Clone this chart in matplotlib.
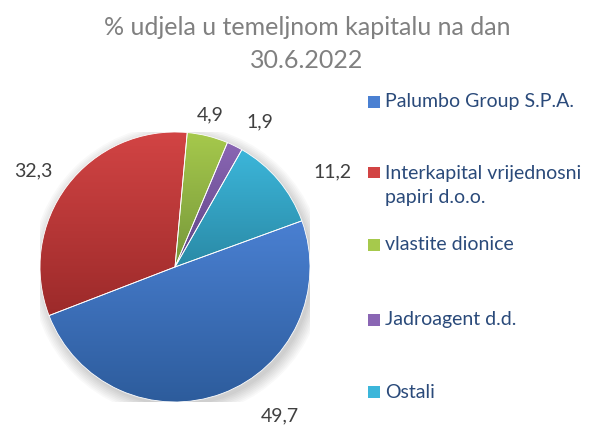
import numpy as np
import matplotlib
matplotlib.use('Agg')
from matplotlib import pyplot as plt
from matplotlib.colors import LinearSegmentedColormap
from matplotlib.patches import Rectangle, Circle

# udjeli u temeljnom kapitalu, 30.6.2022
categories = ['Palumbo Group S.P.A.', 'Interkapital vrijednosni\npapiri d.o.o.',
              'vlastite dionice', 'Jadroagent d.d.', 'Ostali']
shares = [49.7, 32.3, 4.9, 1.9, 11.2]
value_labels = ['49,7', '32,3', '4,9', '1,9', '11,2']

# (light, dark) for the Excel style gradient
grads = [('#4a80d2', '#2d5c9c'),
         ('#d24444', '#9c2a2a'),
         ('#a6c94c', '#76973a'),
         ('#8a66b4', '#5e4484'),
         ('#3cb6da', '#2a8aa6')]

plt.rcParams['font.family'] = ['Lato', 'DejaVu Sans']

W, H = 602, 425
fig = plt.figure(figsize=(W / 100, H / 100), dpi=100)
fig.patch.set_facecolor('white')

cx, cy, r = 175, 267, 135
ax = fig.add_axes([(cx - r) / W, (H - cy - r) / H, 2 * r / W, 2 * r / H])
ax.set_xlim(-1, 1)
ax.set_ylim(-1, 1)
ax.set_aspect('equal')
ax.axis('off')

# soft shadow
for k in range(8):
    ax.add_patch(Circle((0.02, -0.03), 1.0 + 0.012 * k, color='#000000',
                        alpha=0.025, lw=0, zorder=0))

wedges, texts = ax.pie(shares, labels=value_labels, startangle=20, counterclock=False,
                       radius=1, labeldistance=1.25,
                       wedgeprops=dict(edgecolor='white', linewidth=0.6),
                       textprops=dict(fontsize=14, color='#404040', ha='center', va='center'))

# label placement like Excel best fit: (angle shift in deg, radial distance)
place = [(14.7, 1.35), (3.0, 1.27), (1.0, 1.155), (-4.1, 1.245), (-9.0, 1.36)]
for t, w, (da, d) in zip(texts, wedges, place):
    a = np.deg2rad((w.theta1 + w.theta2) / 2 + da)
    t.set_position((d * np.cos(a), d * np.sin(a)))

grad = np.linspace(0, 1, 256).reshape(-1, 1)
for w, (c1, c2) in zip(wedges, grads):
    ext = w.get_path().get_extents()
    cmap = LinearSegmentedColormap.from_list('g', [c2, c1])
    im = ax.imshow(grad, cmap=cmap, origin='lower', aspect='auto',
                   extent=(ext.x0, ext.x1, ext.y0, ext.y1), zorder=1.5)
    im.set_clip_path(w)
    w.set_zorder(2)
    w.set_facecolor('none')

ax.set_xlim(-1, 1)
ax.set_ylim(-1, 1)

# title
fig.text(307 / W, 1 - 35 / H, '% udjela u temeljnom kapitalu na dan',
         ha='center', va='baseline', fontsize=18, color='#808080')
fig.text(307 / W, 1 - 68 / H, '30.6.2022',
         ha='center', va='baseline', fontsize=18, color='#808080')

# legend
leg_y = [102, 186, 245, 320, 392]
for (c1, c2), lab, y in zip(grads, categories, leg_y):
    first = y if '\n' not in lab else y - 13.5
    sq = Rectangle((368 / W, 1 - (first + 6) / H), 12 / W, 12 / H,
                   transform=fig.transFigure, facecolor=c1, edgecolor='none')
    fig.patches.append(sq)
    fig.text(385 / W, 1 - y / H, lab, ha='left', va='center', fontsize=14,
             color='#2a4a7a', linespacing=1.5)

fig.savefig('out.png', dpi=100)
